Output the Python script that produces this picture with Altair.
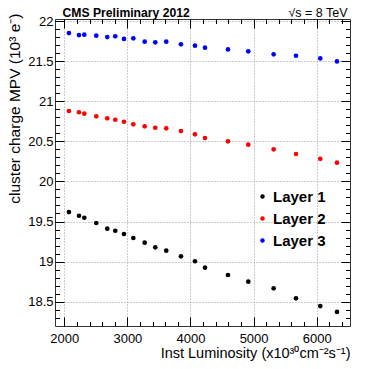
import altair as alt
import pandas as pd

# ---- data ----
lumi = [2074, 2233, 2317, 2507, 2681, 2808, 2946, 3094, 3274, 3442,
        3616, 3849, 4071, 4230, 4594, 4916, 5318, 5672, 6057, 6322]
layer1 = [19.618, 19.572, 19.547, 19.481, 19.410, 19.385, 19.344, 19.294, 19.236, 19.178,
          19.136, 19.066, 19.004, 18.924, 18.833, 18.750, 18.667, 18.542, 18.446, 18.372]
layer2 = [20.878, 20.862, 20.844, 20.812, 20.787, 20.769, 20.744, 20.712, 20.687, 20.669,
          20.662, 20.628, 20.587, 20.541, 20.500, 20.458, 20.400, 20.342, 20.282, 20.233]
layer3 = [21.850, 21.825, 21.829, 21.817, 21.800, 21.809, 21.776, 21.784, 21.742, 21.734,
          21.742, 21.709, 21.692, 21.667, 21.646, 21.622, 21.585, 21.567, 21.534, 21.496]
series = ["Layer 1", "Layer 2", "Layer 3"]
colors = ["#000000", "#ff0000", "#0000ff"]

x_major = [2000, 3000, 4000, 5000, 6000]
x_minor = [2000, 2200, 2400, 2600, 2800, 3000, 3200, 3400, 3600, 3800, 4000, 4200,
           4400, 4600, 4800, 5000, 5200, 5400, 5600, 5800, 6000, 6200, 6400]
y_major = [18.5, 19.0, 19.5, 20.0, 20.5, 21.0, 21.5, 22.0]
y_minor = [18.3, 18.4, 18.5, 18.6, 18.7, 18.8, 18.9, 19.0, 19.1, 19.2, 19.3, 19.4, 19.5,
           19.6, 19.7, 19.8, 19.9, 20.0, 20.1, 20.2, 20.3, 20.4, 20.5, 20.6, 20.7, 20.8,
           20.9, 21.0, 21.1, 21.2, 21.3, 21.4, 21.5, 21.6, 21.7, 21.8, 21.9, 22.0]
x_domain = [1853, 6528]
y_domain = [18.197, 22.025]

x_title = "Inst Luminosity (x10³⁰cm⁻²s⁻¹)"
y_title = "cluster charge MPV (10³ e⁻)"
left_text = "CMS Preliminary 2012"
right_text = "√s = 8 TeV"

rows = []
for name, vals in zip(series, [layer1, layer2, layer3]):
    for l, v in zip(lumi, vals):
        rows.append({"lumi": l, "mpv": v, "layer": name})
df = pd.DataFrame(rows)

FONT = "Liberation Sans"
x_scale = alt.Scale(domain=x_domain, nice=False, zero=False)
y_scale = alt.Scale(domain=y_domain, nice=False, zero=False)

MAJ = {"expr": "-9"}
MIN = {"expr": "-4.5"}


def ax(**kw):
    base = dict(domain=False, tickColor="#000000", tickWidth=1, labelFont=FONT,
                labelFontSize=13, labelColor="#000000", titleFont=FONT,
                titleFontWeight="normal", titleColor="#000000", grid=False,
                labelFlush=False, labelOverlap=False)
    base.update(kw)
    return alt.Axis(**base)


def hidden(orient, values, size, **kw):
    return ax(orient=orient, values=values, tickSize=size, labels=False, title=None, **kw)


main = alt.Chart(df).mark_circle(size=22, opacity=1).encode(
    x=alt.X("lumi:Q", scale=x_scale,
            axis=ax(orient="bottom", values=x_major, tickSize=MAJ, labelPadding=15,
                    format="d", grid=True, gridDash=[1, 2], gridColor="#999999",
                    title=x_title, titleFontSize=14.5, titleAnchor="end",
                    titleBaseline="alphabetic", titleY=31)),
    y=alt.Y("mpv:Q", scale=y_scale,
            axis=ax(orient="left", values=y_major, tickSize=MAJ, labelPadding=11,
                    format="~g", grid=True, gridDash=[1, 2], gridColor="#999999",
                    title=y_title, titleFontSize=15.5, titleAngle=270,
                    titleAlign="right", titleBaseline="alphabetic",
                    titleX=-35.5, titleY=-6)),
    color=alt.Color("layer:N", scale=alt.Scale(domain=series, range=colors),
                    legend=alt.Legend(title=None, orient="none", legendX=200, legendY=170,
                                      labelFont=FONT, labelFontSize=15,
                                      labelFontWeight="bold", labelColor="#000000",
                                      symbolType="circle", symbolSize=20,
                                      symbolStrokeWidth=0, rowPadding=6,
                                      labelOffset=3, padding=0)),
)

minor_bl = alt.Chart(df).mark_circle(opacity=0).encode(
    x=alt.X("lumi:Q", scale=x_scale, axis=hidden("bottom", x_minor, MIN)),
    y=alt.Y("mpv:Q", scale=y_scale, axis=hidden("left", y_minor, MIN)),
)

major_tr = alt.Chart(df).mark_circle(opacity=0).encode(
    x=alt.X("lumi:Q", scale=x_scale,
            axis=ax(orient="top", values=x_major, tickSize=MAJ, labels=False,
                    title=left_text, titleFontSize=12.2, titleFontWeight="bold",
                    titleAlign="left", titleBaseline="alphabetic",
                    titleX=7, titleY=-2.5)),
    y=alt.Y("mpv:Q", scale=y_scale, axis=hidden("right", y_major, MAJ)),
)

minor_tr = alt.Chart(df).mark_circle(opacity=0).encode(
    x=alt.X("lumi:Q", scale=x_scale,
            axis=ax(orient="top", values=x_minor, tickSize=MIN, labels=False,
                    title=right_text, titleFontSize=12.5,
                    titleAlign="right", titleBaseline="alphabetic",
                    titleX=292, titleY=-2.5)),
    y=alt.Y("mpv:Q", scale=y_scale, axis=hidden("right", y_minor, MIN)),
)

chart = alt.layer(minor_bl, major_tr, minor_tr, main).resolve_axis(
    x="independent", y="independent"
).properties(
    width=295, height=307, autosize="none",
    padding={"left": 47, "top": 11, "right": 11, "bottom": 35},
    background="white",
).configure_view(stroke="#333333", strokeWidth=1)

chart.save("out.html", embed_options={"renderer": "svg", "actions": False})
